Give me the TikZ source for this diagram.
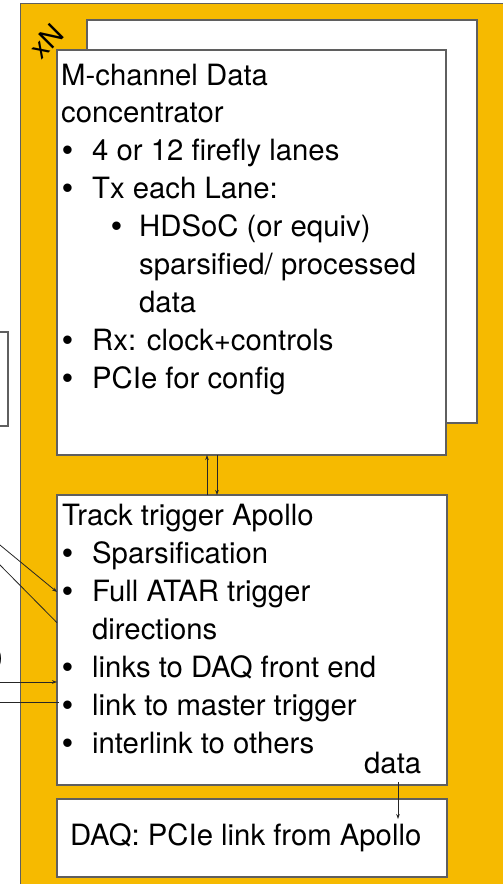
\documentclass[tikz,border=0pt]{standalone}
\usepackage{fontspec}
\setmainfont{TeX Gyre Heros}
\newfontfamily\bulfont{Liberation Sans}
\usetikzlibrary{arrows.meta}
\definecolor{gold}{RGB}{246,186,0}
\definecolor{edge}{RGB}{95,95,95}
\begin{document}
\begin{tikzpicture}[x=1pt,y=-1pt,
  box/.style={draw=edge, line width=1.2pt, fill=white, inner sep=0pt, outer sep=0pt, anchor=north west},
  txt/.style={anchor=base west, inner sep=0pt, font=\fontsize{29.3}{38}\selectfont},
  bul/.style={txt, font=\bulfont\fontsize{31}{38}\selectfont},
  link/.style={line width=0.8pt, draw=black!85},
  arr/.style={link, -{Stealth[length=5pt,width=3.6pt]}}]
\path[use as bounding box] (0,0) rectangle (503,884);
\clip (0,0) rectangle (503,884);
\fill[white] (0,0) rectangle (503,884);
\draw[draw=edge, line width=1.2pt, fill=gold] (20.5,3.5) rectangle (530,910);
% boxes
\node[box, minimum width=390pt, minimum height=403pt] (back) at (87,20) {};
\node[box, minimum width=389pt, minimum height=405pt] (front) at (57,50) {};
\node[box, minimum width=390pt, minimum height=290pt] (track) at (57,495) {};
\node[box, minimum width=390pt, minimum height=78pt] (daq) at (57,799) {};
\node[box, anchor=north east, minimum width=80pt, minimum height=94pt] (ext) at (8,332) {};
% multiplicity label
\node[rotate=45, inner sep=0pt, font=\fontsize{28}{30}\selectfont] (mult) at (46,41) {xN};
% front box text
\node[txt] (f1) at (61,85) {M-channel Data};
\node[txt] (f2) at (61,122.9) {concentrator};
\node[bul] (f3b) at (62,160.8) {•};
\node[txt] (f3) at (92,160.8) {4 or 12 firefly lanes};
\node[bul] (f4b) at (62,198.7) {•};
\node[txt] (f4) at (92,198.7) {Tx each Lane:};
\node[bul] (f5b) at (111,236.6) {•};
\node[txt] (f5) at (139,236.6) {HDSoC (or equiv)};
\node[txt] (f6) at (139,274.5) {sparsified/ processed};
\node[txt] (f7) at (139,312.4) {data};
\node[bul] (f8b) at (62,350.3) {•};
\node[txt] (f8) at (92,350.3) {Rx: clock+controls};
\node[bul] (f9b) at (62,388.2) {•};
\node[txt] (f9) at (92,388.2) {PCIe for config};
% track box text
\node[txt] (t1) at (62,525) {Track trigger Apollo};
\node[bul] (t2b) at (62,563) {•};
\node[txt] (t2) at (92,563) {Sparsification};
\node[bul] (t3b) at (62,601) {•};
\node[txt] (t3) at (92,601) {Full ATAR trigger};
\node[txt] (t4) at (92,639) {directions};
\node[bul] (t5b) at (62,677) {•};
\node[txt] (t5) at (92,677) {links to DAQ front end};
\node[bul] (t6b) at (62,715) {•};
\node[txt] (t6) at (92,715) {link to master trigger};
\node[bul] (t7b) at (62,753) {•};
\node[txt] (t7) at (92,753) {interlink to others};
\node[txt] (dlab) at (364,773) {data};
% daq text
\node[txt] (d1) at (70,845) {DAQ: PCIe link from Apollo};
% partial text at left edge
\node[txt, anchor=base east] (cut) at (3.5,666) {)};
% connectors
\coordinate (L1) at (-60,495.6);
\coordinate (L2) at (-60,504.3);
\coordinate (L3) at (-20,682);
\coordinate (L4) at (-20,702);
\coordinate (ds) at (398,782);
\draw[arr] (L1) -- ([yshift=-97pt]track.north west);
\draw[link] (L2) -- ([yshift=-127.7pt]track.north west);
\draw[arr] (L3) -- ([yshift=-187pt]track.north west);
\draw[link] (L4) -- ([xshift=1.5pt,yshift=-207pt]track.north west);
\draw[arr] ([xshift=150pt]track.north west) -- ([xshift=150pt]front.south west);
\draw[arr] ([xshift=160pt]front.south west) -- ([xshift=160pt]track.north west);
\draw[arr] (ds) -- ([xshift=341pt,yshift=-20pt]daq.north west);
\end{tikzpicture}
\end{document}
